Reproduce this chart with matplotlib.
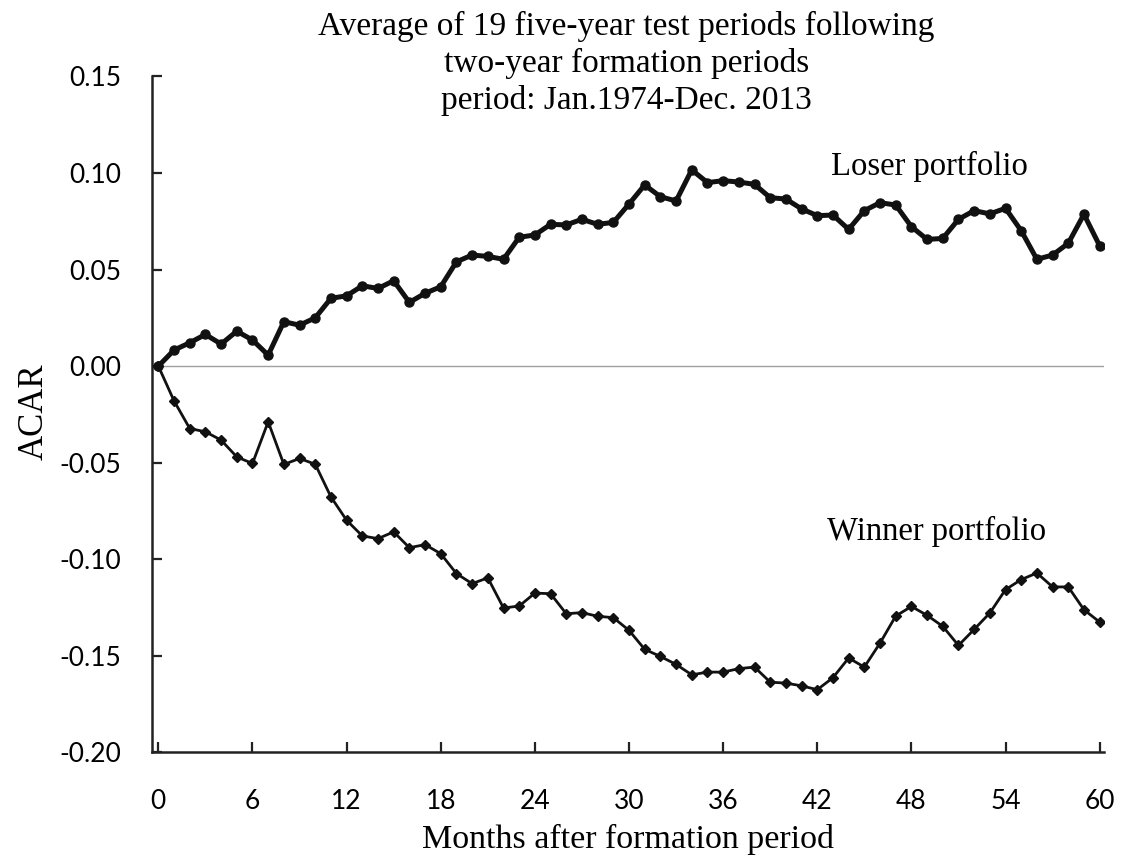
import matplotlib

matplotlib.use("Agg")
import matplotlib.pyplot as plt
import numpy as np

months = np.arange(0, 61)

loser_acar = [
    0.0000, 0.0083, 0.0121, 0.0164, 0.0114, 0.0181, 0.0135, 0.0057, 0.0230, 0.0212,
    0.0250, 0.0351, 0.0364, 0.0416, 0.0402, 0.0442, 0.0330, 0.0377, 0.0411, 0.0540,
    0.0575, 0.0568, 0.0553, 0.0667, 0.0679, 0.0734, 0.0731, 0.0760, 0.0734, 0.0744,
    0.0839, 0.0938, 0.0877, 0.0855, 0.1016, 0.0950, 0.0960, 0.0953, 0.0941, 0.0872,
    0.0865, 0.0814, 0.0779, 0.0782, 0.0708, 0.0805, 0.0846, 0.0834, 0.0722, 0.0656,
    0.0661, 0.0760, 0.0805, 0.0788, 0.0817, 0.0701, 0.0553, 0.0575, 0.0636, 0.0786,
    0.0623,
]

winner_acar = [
    0.0000, -0.0180, -0.0323, -0.0340, -0.0383, -0.0470, -0.0504, -0.0288, -0.0509, -0.0478,
    -0.0508, -0.0677, -0.0798, -0.0879, -0.0893, -0.0858, -0.0940, -0.0924, -0.0971, -0.1074,
    -0.1126, -0.1096, -0.1252, -0.1242, -0.1175, -0.1178, -0.1282, -0.1276, -0.1295, -0.1302,
    -0.1368, -0.1466, -0.1503, -0.1544, -0.1598, -0.1584, -0.1584, -0.1566, -0.1558, -0.1636,
    -0.1641, -0.1655, -0.1675, -0.1613, -0.1511, -0.1558, -0.1434, -0.1294, -0.1244, -0.1290,
    -0.1347, -0.1446, -0.1363, -0.1278, -0.1157, -0.1105, -0.1071, -0.1143, -0.1143, -0.1261,
    -0.1325,
]

x_ticks = list(range(0, 61, 6))
y_ticks = [-0.20, -0.15, -0.10, -0.05, 0.00, 0.05, 0.10, 0.15]

serif = "Liberation Serif"
sans = "Lato"

fig = plt.figure(figsize=(11.35, 8.58), dpi=100)
ax = fig.add_axes([0.134, 0.123, 0.839, 0.788])

ax.axhline(0, color="#a0a0a0", linewidth=1.0, zorder=1)
ax.plot(months, loser_acar, color="#111111", linewidth=3.6, marker="o", markersize=6.5, zorder=3)
ax.plot(months, winner_acar, color="#111111", linewidth=2.0, marker="D", markersize=5, zorder=3)

ax.set_xlim(-0.4, 60.3)
ax.set_ylim(-0.20, 0.15)
ax.set_xticks(x_ticks)
ax.set_yticks(y_ticks)
ax.set_yticklabels([f"{v:.2f}" for v in y_ticks])

for side in ("top", "right"):
    ax.spines[side].set_visible(False)
for side in ("left", "bottom"):
    ax.spines[side].set_linewidth(1.8)
    ax.spines[side].set_color("#222222")

ax.tick_params(axis="both", direction="in", length=7, width=1.6, color="#222222",
               labelsize=19)
ax.tick_params(axis="y", pad=22)
ax.tick_params(axis="x", pad=26)
for lab in ax.get_xticklabels() + ax.get_yticklabels():
    lab.set_fontfamily(sans)

ax.set_xlabel("Months after formation period", fontfamily=serif, fontsize=24.5, va="center")
ax.xaxis.set_label_coords(0.5, -0.128)
fig.text(0.0300, 0.52, "ACAR", rotation=90, ha="center", va="center",
         fontfamily=serif, fontsize=25)

ax.text(42.9, 0.099, "Loser portfolio", fontfamily=serif, fontsize=23.5, va="baseline")
ax.text(42.6, -0.090, "Winner portfolio", fontfamily=serif, fontsize=23.5, va="baseline")

fig.text(0.552, 0.987,
         "Average of 19 five-year test periods following\n"
         "two-year formation periods\n"
         "period: Jan.1974-Dec. 2013",
         ha="center", va="top", fontfamily=serif, fontsize=24, linespacing=1.25)

fig.savefig("out.png", dpi=100, facecolor="white")
plt.close(fig)
